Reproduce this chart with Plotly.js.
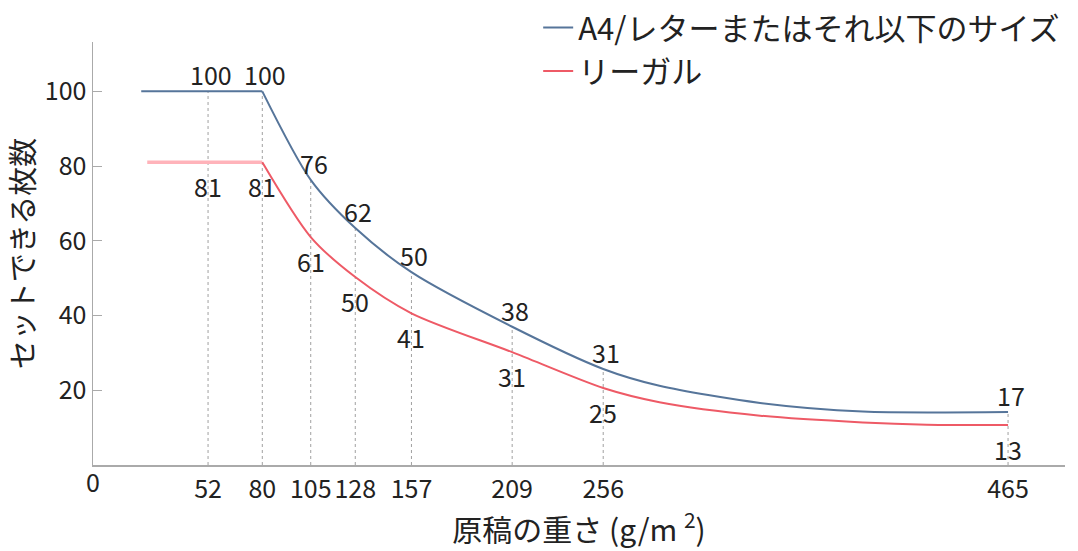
<!DOCTYPE html>
<html>
<head>
<meta charset="utf-8">
<script src="https://cdn.plot.ly/plotly-3.0.1.min.js"></script>
<style>html,body{margin:0;padding:0;background:#fff;}#chart{width:1078px;height:551px;}</style>
</head>
<body>
<div id="chart"></div>
<script>
// Paper weight (g/m2) at the labelled points
const weights = [52, 80, 105, 128, 157, 209, 256, 465];
// Printed values for each series
const a4Labels = ['100', '100', '76', '62', '50', '38', '31', '17'];
const legalLabels = ['81', '81', '61', '50', '41', '31', '25', '13'];
// Curves as drawn
const a4X = [17.5, 52, 80, 105, 128, 157, 209, 256, 285, 337, 390, 465];
const a4Y = [100, 100, 100, 76.3, 63.4, 51.6, 37, 25.7, 21.2, 16.6, 14.3, 14.2];
const legalX = [20.6, 52, 80, 105, 128, 157, 209, 256, 285, 337, 390, 423, 465];
const legalY = [81, 81, 81, 61, 50.3, 40.6, 30.2, 20.6, 16.8, 13.2, 11.4, 10.8, 10.7];
const yTicks = [20, 40, 60, 80, 100];
const seriesNames = ['A4/レターまたはそれ以下のサイズ', 'リーガル'];

const FONT = '"Noto Sans CJK JP", "Noto Sans", sans-serif';
const BLUE = '#56759a';
const RED = '#ee5a66';

function valueAt(xs, ys, x) { return ys[xs.indexOf(x)]; }
function splitAt(xs, ys, x) {
  const i = xs.indexOf(x);
  return { flatX: xs.slice(0, i + 1), flatY: ys.slice(0, i + 1), curveX: xs.slice(i), curveY: ys.slice(i) };
}
const a4 = splitAt(a4X, a4Y, 80);
const lg = splitAt(legalX, legalY, 80);

const traces = [
  { x: a4.flatX, y: a4.flatY, mode: 'lines', line: { color: BLUE, width: 2 }, legendgroup: 'a4', showlegend: false, hoverinfo: 'skip' },
  { x: a4.curveX, y: a4.curveY, mode: 'lines', line: { color: BLUE, width: 2, shape: 'spline', smoothing: 0.8 }, legendgroup: 'a4', name: seriesNames[0] },
  { x: lg.flatX, y: lg.flatY, mode: 'lines', line: { color: '#ffb3ba', width: 3.5 }, legendgroup: 'lg', showlegend: false, hoverinfo: 'skip' },
  { x: lg.curveX, y: lg.curveY, mode: 'lines', line: { color: RED, width: 2, shape: 'spline', smoothing: 0.8 }, legendgroup: 'lg', name: seriesNames[1] }
];

const shapes = weights.map(w => ({
  type: 'line', xref: 'x', yref: 'y', x0: w, x1: w, y0: 0,
  y1: Math.max(valueAt(a4X, a4Y, w), valueAt(legalX, legalY, w)),
  line: { color: '#a0a0a0', width: 1, dash: 'dot' }, layer: 'below'
}));

const labelFont = { family: FONT, size: 25, color: '#222' };
const annotations = [];
weights.forEach((w, i) => {
  annotations.push({ x: w, y: valueAt(a4X, a4Y, w), xref: 'x', yref: 'y', text: a4Labels[i], showarrow: false, yanchor: 'middle', yshift: 17, xshift: 3, font: labelFont });
  annotations.push({ x: w, y: valueAt(legalX, legalY, w), xref: 'x', yref: 'y', text: legalLabels[i], showarrow: false, yanchor: 'middle', yshift: -24, font: labelFont });
});
annotations.push({ x: 0, y: 0, xref: 'paper', yref: 'paper', text: '0', showarrow: false, xanchor: 'center', yanchor: 'middle', yshift: -16, font: labelFont });

const layout = {
  width: 1078, height: 551,
  margin: { l: 93, r: 13, t: 42, b: 86, autoexpand: false },
  paper_bgcolor: '#fff', plot_bgcolor: '#fff',
  font: { family: FONT, color: '#222' },
  showlegend: true,
  legend: {
    x: 0.458, y: 1.097, xanchor: 'left', yanchor: 'top',
    font: { family: FONT, size: 31, color: '#222' },
    bgcolor: 'rgba(0,0,0,0)', borderwidth: 0, tracegroupgap: 0
  },
  xaxis: {
    range: [-7.4, 494.4], tickvals: weights, ticks: '', showgrid: false, zeroline: false,
    showline: true, linecolor: '#aaaaaa', linewidth: 1.5,
    tickfont: { family: FONT, size: 25, color: '#222' }, ticklabelstandoff: 1,
    title: { text: '原稿の重さ (g/m <sup>2</sup>)', font: { family: FONT, size: 30, color: '#222' }, standoff: 10 }
  },
  yaxis: {
    range: [0, 113.2], tickvals: yTicks, ticks: 'inside', ticklen: 9, tickcolor: '#aaaaaa',
    showgrid: false, zeroline: false, showline: true, linecolor: '#aaaaaa', linewidth: 1.5,
    tickfont: { family: FONT, size: 25, color: '#222' }, ticklabelstandoff: 0,
    title: { text: 'セットできる枚数', font: { family: FONT, size: 29, color: '#222' }, standoff: 8 }
  },
  shapes: shapes,
  annotations: annotations
};

Plotly.newPlot('chart', traces, layout, { displayModeBar: false, staticPlot: true });
</script>
</body>
</html>
